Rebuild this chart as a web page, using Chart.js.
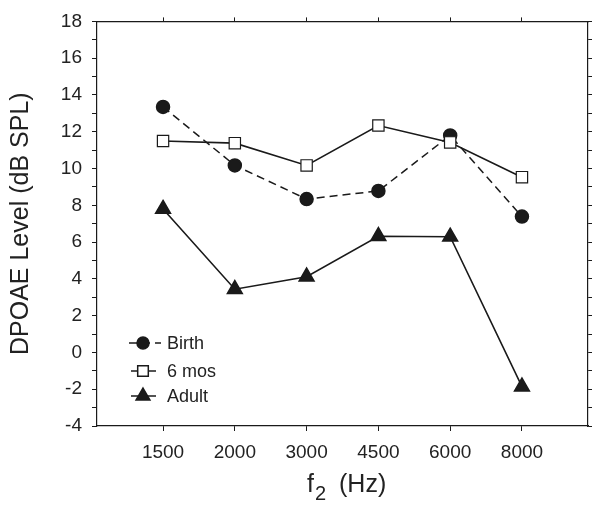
<!DOCTYPE html>
<html>
<head>
<meta charset="utf-8">
<script src="https://cdn.jsdelivr.net/npm/chart.js@4/dist/chart.umd.min.js"></script>
<style>
  body { margin: 0; background: #fff; }
</style>
</head>
<body>
<canvas id="grafico" width="603" height="509"></canvas>
<script>
// frecuencias f2 (Hz)
const frecuencias = ["1500", "2000", "3000", "4500", "6000", "8000"];
// niveles DPOAE (dB SPL)
const nacimiento = [13.35, 10.17, 8.34, 8.78, 11.8, 7.39];
const seisMeses = [11.5, 11.38, 10.17, 12.34, 11.42, 9.53];
const adulto = [7.8, 3.44, 4.12, 6.32, 6.29, -1.86];
const nombres = ["Birth", "6 mos", "Adult"];
const yMin = -4, yMax = 18;

const negro = "#1a1a1a";
const fuente = "'Liberation Sans', Arial, sans-serif";

function puntos(arr) {
	return arr.map((v, i) => ({ x: i, y: v }));
}

const ticksX = (s) => { s.ticks = frecuencias.map((f, i) => ({ value: i })); };

// leyenda dentro del area y titulo del eje x con subindice
const extras = {
	id: "extras",
	afterDraw(chart) {
		const ctx = chart.ctx;
		const filas = [343, 371, 396];
		ctx.save();
		chart.data.datasets.forEach((ds, k) => {
			const y = filas[k];
			ctx.strokeStyle = negro;
			ctx.lineWidth = 1.5;
			ctx.setLineDash(ds.borderDash || []);
			ctx.beginPath();
			ctx.moveTo(ds.borderDash ? 129 : 131, y);
			ctx.lineTo(ds.borderDash ? 161 : 156, y);
			ctx.stroke();
			ctx.setLineDash([]);
			ctx.fillStyle = ds.pointBackgroundColor;
			Chart.helpers.drawPoint(ctx, { pointStyle: ds.pointStyle, radius: ds.pointRadius - 0.5, rotation: 0, borderWidth: 1.2 }, 143, y);
			ctx.fillStyle = "#222";
			ctx.font = "18px " + fuente;
			ctx.textBaseline = "middle";
			ctx.textAlign = "left";
			ctx.fillText(nombres[k], 167, y + 1);
		});
		// f2 (Hz)
		ctx.fillStyle = "#222";
		ctx.textBaseline = "alphabetic";
		ctx.font = "25px " + fuente;
		ctx.fillText("f", 307, 492);
		ctx.font = "20px " + fuente;
		ctx.fillText("2", 315, 500);
		ctx.font = "25px " + fuente;
		ctx.fillText("(Hz)", 339, 492);
		ctx.restore();
	},
};

const config = {
	type: "line",
	data: {
		datasets: [
			{
				label: nombres[0],
				data: puntos(nacimiento),
				borderColor: negro,
				borderWidth: 1.5,
				borderDash: [8, 5],
				pointStyle: "circle",
				pointRadius: 6.5,
				pointBackgroundColor: negro,
				pointBorderColor: negro,
				order: 1,
			},
			{
				label: nombres[1],
				data: puntos(seisMeses),
				borderColor: negro,
				borderWidth: 1.6,
				pointStyle: "rect",
				pointRadius: 8,
				pointBorderWidth: 1.2,
				pointBackgroundColor: "#fff",
				pointBorderColor: negro,
				order: 0,
			},
			{
				label: nombres[2],
				data: puntos(adulto),
				borderColor: negro,
				borderWidth: 1.6,
				pointStyle: "triangle",
				pointRadius: 8.5,
				pointBackgroundColor: negro,
				pointBorderColor: negro,
				order: 2,
			},
		],
	},
	options: {
		responsive: false,
		animation: false,
		events: [],
		layout: { padding: 0 },
		elements: { line: { tension: 0 } },
		plugins: { legend: { display: false }, tooltip: { enabled: false } },
		scales: {
			x: {
				type: "linear",
				position: "bottom",
				min: -0.92,
				max: 5.92,
				afterBuildTicks: ticksX,
				afterFit: (s) => { s.height = 83; },
				grid: { drawOnChartArea: false, tickLength: 5, color: negro },
				border: { color: negro, width: 1.2 },
				ticks: {
					autoSkip: false,
					maxRotation: 0,
					padding: 10,
					color: "#222",
					font: { family: fuente, size: 19 },
					callback: (v) => frecuencias[v],
				},
			},
			x2: {
				type: "linear",
				position: "top",
				min: -0.92,
				max: 5.92,
				afterBuildTicks: ticksX,
				afterFit: (s) => { s.height = 14; },
				grid: { drawOnChartArea: false, tickLength: 4, color: negro },
				border: { color: negro, width: 1.2 },
				ticks: { display: false },
			},
			y: {
				position: "left",
				min: yMin,
				max: yMax,
				afterFit: (s) => { s.width = 97; },
				grid: { drawOnChartArea: false, tickLength: 5, color: negro },
				border: { color: negro, width: 1.2 },
				ticks: {
					stepSize: 1,
					autoSkip: false,
					padding: 10,
					color: "#222",
					font: { family: fuente, size: 19 },
					callback: (v) => (v % 2 === 0 ? String(v) : ""),
				},
				title: {
					display: true,
					text: "DPOAE Level (dB SPL)",
					color: "#222",
					font: { family: fuente, size: 25 },
					padding: { top: 6, bottom: 0 },
				},
			},
			y2: {
				position: "right",
				min: yMin,
				max: yMax,
				afterFit: (s) => { s.width = 15; },
				grid: { drawOnChartArea: false, tickLength: 4, color: negro },
				border: { color: negro, width: 1.2 },
				ticks: { stepSize: 1, autoSkip: false, display: false },
			},
		},
	},
	plugins: [extras],
};

const grafico = new Chart(document.getElementById("grafico"), config);
</script>
</body>
</html>
